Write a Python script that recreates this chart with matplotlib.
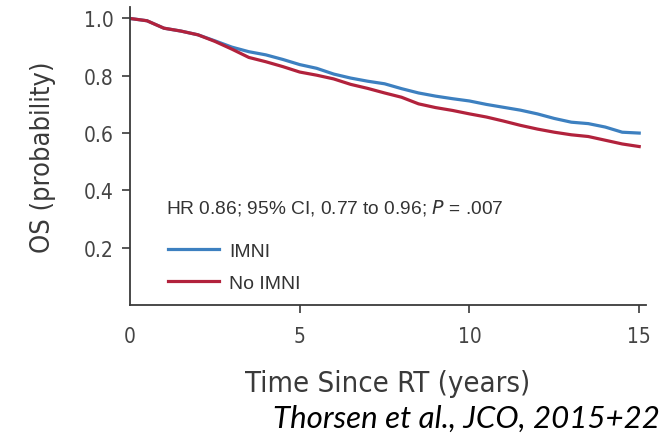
import matplotlib
matplotlib.use("Agg")
import matplotlib.pyplot as plt

# Kaplan-Meier overall survival
years = [0, 0.5, 1.0, 1.5, 2.0, 2.5, 3.0, 3.5, 4.0, 4.5, 5.0, 5.5, 6.0, 6.5, 7.0, 7.5,
         8.0, 8.5, 9.0, 9.5, 10.0, 10.5, 11.0, 11.5, 12.0, 12.5, 13.0, 13.5, 14.0, 14.5, 15.0]
os_imni = [1.0, 0.992, 0.966, 0.956, 0.943, 0.922, 0.900, 0.884, 0.873, 0.857, 0.839, 0.826,
           0.806, 0.792, 0.781, 0.772, 0.755, 0.740, 0.729, 0.720, 0.712, 0.700, 0.690, 0.680,
           0.667, 0.651, 0.638, 0.633, 0.621, 0.603, 0.600]
os_no_imni = [1.0, 0.992, 0.966, 0.956, 0.943, 0.920, 0.893, 0.864, 0.849, 0.832, 0.813, 0.802,
              0.789, 0.770, 0.756, 0.740, 0.725, 0.702, 0.689, 0.679, 0.667, 0.656, 0.642, 0.627,
              0.614, 0.603, 0.594, 0.588, 0.575, 0.562, 0.553]

x_ticks = [0, 5, 10, 15]
y_ticks = [0.2, 0.4, 0.6, 0.8, 1.0]
labels = ["IMNI", "No IMNI"]
stat_text = "HR 0.86; 95% CI, 0.77 to 0.96; $\\it{P}$ = .007"
source_text = "Thorsen et al., JCO, 2015+22"

blue = "#3d80c0"
red = "#b2223c"
grey = "#3a3a3a"
narrow = ["DejaVu Sans"]

fig = plt.figure(figsize=(6.72, 4.39), dpi=100)
ax = fig.add_axes([130 / 672, 1 - 306 / 439, 516 / 672, 298 / 439])

ax.plot(years, os_imni, color=blue, lw=2.3, label=labels[0])
ax.plot(years, os_no_imni, color=red, lw=2.3, label=labels[1])

ax.set_xlim(0, 15.2)
ax.set_ylim(0, 1.04)
ax.set_xticks(x_ticks)
ax.set_yticks(y_ticks)
ax.set_xticklabels([str(t) for t in x_ticks])
ax.set_yticklabels(["%.1f" % t for t in y_ticks])
ax.xaxis.get_major_ticks()[0].tick1line.set_visible(False)

for side in ["top", "right"]:
    ax.spines[side].set_visible(False)
for side in ["left", "bottom"]:
    ax.spines[side].set_color(grey)
    ax.spines[side].set_linewidth(1.3)

ax.tick_params(axis="both", direction="out", length=6, width=1.2, color=grey,
               labelcolor="#444444")
ax.tick_params(axis="x", pad=9)
ax.tick_params(axis="y", pad=6)
for lab in ax.get_xticklabels() + ax.get_yticklabels():
    lab.set_family(narrow)
    lab.set_stretch("condensed")
    lab.set_fontsize(15)

ax.set_xlabel("Time Since RT (years)", family=narrow, stretch="condensed",
              fontsize=21, color=grey, labelpad=17)
ax.set_ylabel("OS (probability)", family=narrow, stretch="condensed",
              fontsize=19.5, color=grey, labelpad=20)

ax.text(0.07, 0.33, stat_text, transform=ax.transAxes, fontsize=13.8,
        family="Liberation Sans", color="#333333", va="center")

leg = ax.legend(loc="upper left", bbox_to_anchor=(0.04, 0.27), frameon=False,
                handlelength=2.6, handletextpad=0.55, labelspacing=0.75,
                prop={"family": "Liberation Sans", "size": 14})
for t in leg.get_texts():
    t.set_color("#333333")

fig.text(0.982, 1 - 428 / 439, source_text, ha="right", va="baseline", fontsize=22.5,
         family="Lato", style="italic", color="black")

fig.savefig("out.png", dpi=100)
